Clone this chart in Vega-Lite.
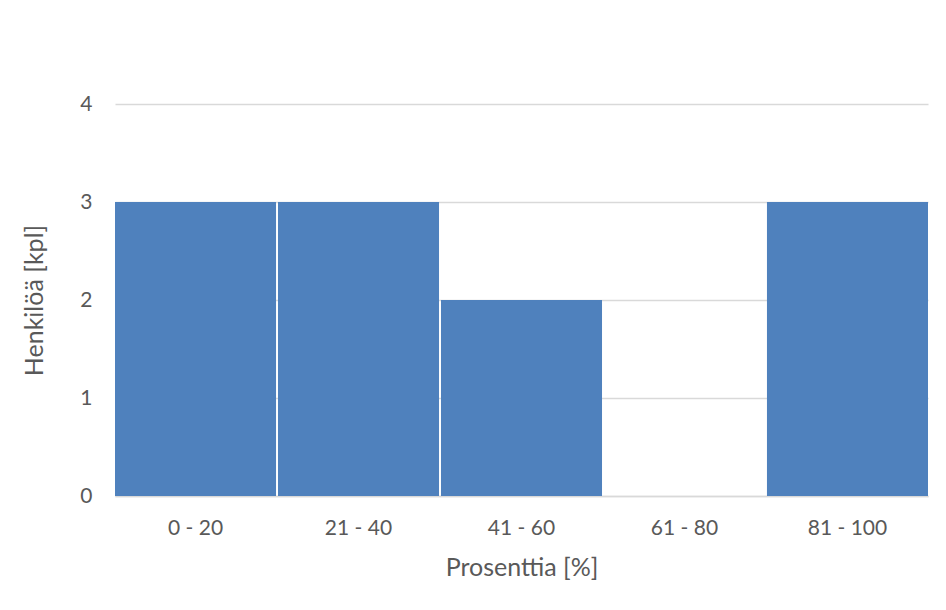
{
  "$schema": "https://vega.github.io/schema/vega-lite/v6.json",
  "autosize": "none",
  "width": 813,
  "height": 392,
  "padding": {"left": 115, "top": 104, "right": 18, "bottom": 114},
  "background": "white",
  "data": {
    "values": [
      {"ryhma": "0 - 20", "henkiloa": 3},
      {"ryhma": "21 - 40", "henkiloa": 3},
      {"ryhma": "41 - 60", "henkiloa": 2},
      {"ryhma": "61 - 80", "henkiloa": 0},
      {"ryhma": "81 - 100", "henkiloa": 3}
    ]
  },
  "mark": {"type": "bar", "color": "#4f81bd"},
  "encoding": {
    "x": {
      "field": "ryhma",
      "type": "ordinal",
      "sort": null,
      "scale": {"paddingInner": 0.012, "paddingOuter": 0},
      "axis": {
        "title": "Prosenttia [%]",
        "labelAngle": 0,
        "ticks": false,
        "domainColor": "#d9d9d9",
        "domainWidth": 1.5,
        "labelPadding": 21,
        "titlePadding": 17
      }
    },
    "y": {
      "field": "henkiloa",
      "type": "quantitative",
      "scale": {"domain": [0, 4], "nice": false},
      "axis": {
        "title": "Henkilöä [kpl]",
        "values": [0, 1, 2, 3, 4],
        "format": "d",
        "ticks": false,
        "domain": false,
        "labelPadding": 23,
        "titlePadding": 32,
        "gridColor": "#d9d9d9",
        "gridWidth": 1.5
      }
    }
  },
  "config": {
    "view": {"stroke": null},
    "axis": {
      "labelFont": "Lato",
      "titleFont": "Lato",
      "labelFontSize": 21,
      "titleFontSize": 25,
      "labelColor": "#595959",
      "titleColor": "#595959",
      "titleFontWeight": "normal"
    }
  }
}
